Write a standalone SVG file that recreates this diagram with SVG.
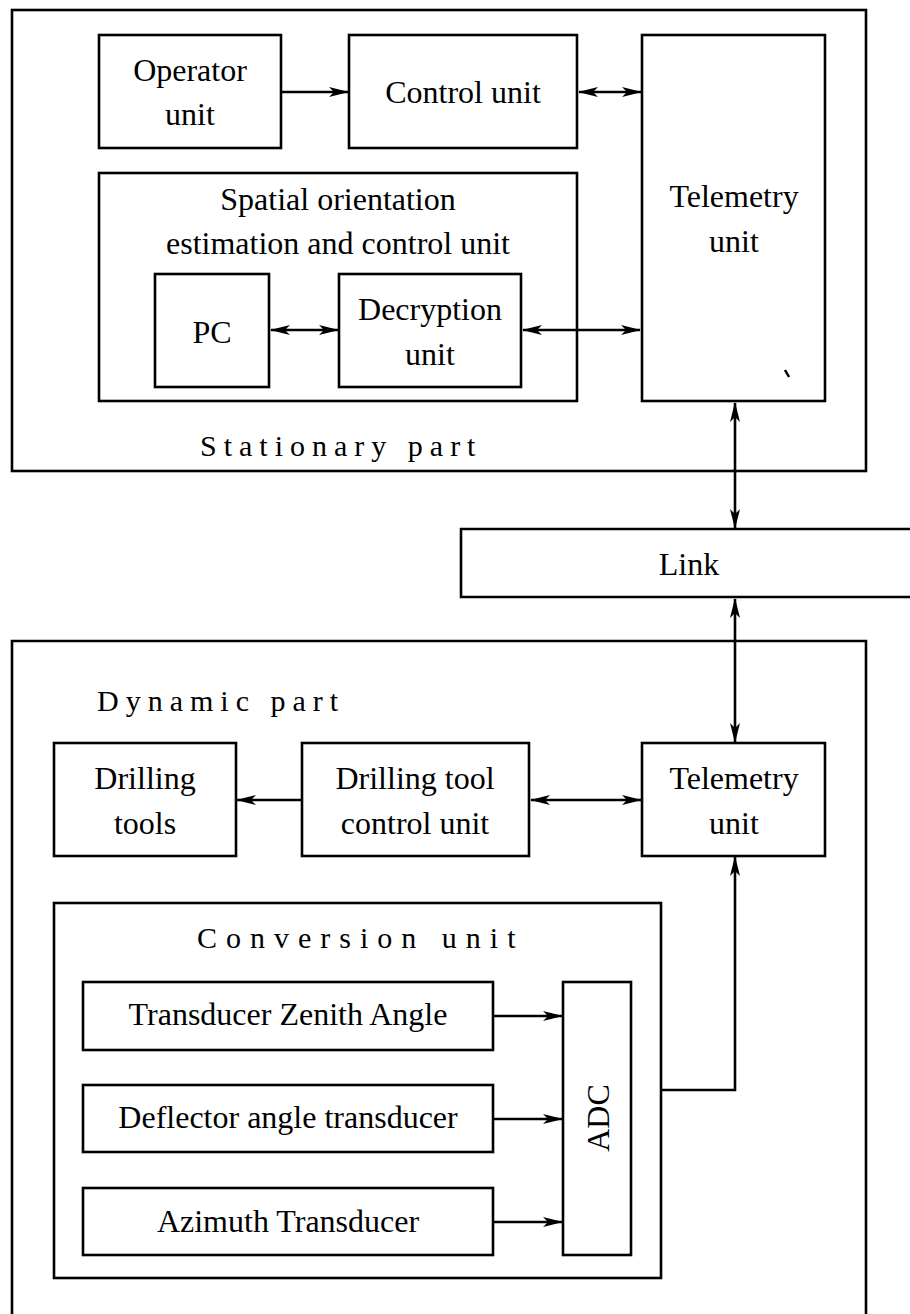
<svg xmlns="http://www.w3.org/2000/svg" width="910" height="1314" viewBox="0 0 910 1314">
<defs>
<style>
.b{fill:#fff;stroke:#000;stroke-width:2.6}
.o{fill:none;stroke:#000;stroke-width:2.6}
.c{fill:none;stroke:#000;stroke-width:2.6}
.t{font-family:"Liberation Serif","Times New Roman",serif;font-size:32px;fill:#000;text-anchor:middle}
.s{font-family:"Liberation Serif","Times New Roman",serif;font-size:30px;fill:#000}
</style>
<marker id="ah" markerWidth="20" markerHeight="12" refX="19" refY="6" orient="auto-start-reverse" markerUnits="userSpaceOnUse">
<path d="M0,1 L20,6 L0,11 L5,6 Z" fill="#000"/>
</marker>
</defs>
<rect width="910" height="1314" fill="#fff"/>
<g id="stationary-part">
<rect class="o" x="12" y="10" width="854" height="461"/>
<text class="s" x="200" y="456" letter-spacing="7">Stationary part</text>
</g>
<g id="operator-unit">
<rect class="b" x="99" y="35" width="182" height="113"/>
<text class="t" x="190" y="81">Operator</text>
<text class="t" x="190" y="125">unit</text>
</g>
<g id="control-unit">
<rect class="b" x="349" y="35" width="228" height="113"/>
<text class="t" x="463" y="103">Control unit</text>
</g>
<g id="telemetry-unit-top">
<rect class="b" x="642" y="35" width="183" height="366"/>
<text class="t" x="734" y="207">Telemetry</text>
<text class="t" x="734" y="252">unit</text>
<path d="M785,370 L789,377" stroke="#000" stroke-width="2.5" fill="none"/>
</g>
<g id="spatial-orientation-unit">
<rect class="b" x="99" y="173" width="478" height="228"/>
<text class="t" x="338" y="210">Spatial orientation</text>
<text class="t" x="338" y="254">estimation and control unit</text>
</g>
<g id="pc">
<rect class="b" x="155" y="274" width="114" height="113"/>
<text class="t" x="212" y="343">PC</text>
</g>
<g id="decryption-unit">
<rect class="b" x="339" y="274" width="182" height="113"/>
<text class="t" x="430" y="320">Decryption</text>
<text class="t" x="430" y="365">unit</text>
</g>
<g id="link">
<path class="o" d="M912,529 H461 V597 H912"/>
<text class="t" x="689" y="575">Link</text>
</g>
<g id="dynamic-part">
<path class="o" d="M12,1316 V641 H866 V1316"/>
<text class="s" x="97" y="711" letter-spacing="7">Dynamic part</text>
</g>
<g id="drilling-tools">
<rect class="b" x="54" y="743" width="182" height="113"/>
<text class="t" x="145" y="789">Drilling</text>
<text class="t" x="145" y="834">tools</text>
</g>
<g id="drilling-tool-control-unit">
<rect class="b" x="302" y="743" width="227" height="113"/>
<text class="t" x="415" y="789">Drilling tool</text>
<text class="t" x="415" y="834">control unit</text>
</g>
<g id="telemetry-unit-bottom">
<rect class="b" x="642" y="743" width="183" height="113"/>
<text class="t" x="734" y="789">Telemetry</text>
<text class="t" x="734" y="834">unit</text>
</g>
<g id="conversion-unit">
<rect class="b" x="54" y="903" width="607" height="375"/>
<text class="s" x="197" y="948" letter-spacing="9">Conversion unit</text>
</g>
<g id="transducer-zenith-angle">
<rect class="b" x="83" y="982" width="410" height="68"/>
<text class="t" x="288" y="1025">Transducer Zenith Angle</text>
</g>
<g id="deflector-angle-transducer">
<rect class="b" x="83" y="1085" width="410" height="67"/>
<text class="t" x="288" y="1128">Deflector angle transducer</text>
</g>
<g id="azimuth-transducer">
<rect class="b" x="83" y="1188" width="410" height="67"/>
<text class="t" x="288" y="1232">Azimuth Transducer</text>
</g>
<g id="adc">
<rect class="b" x="563" y="982" width="68" height="273"/>
<text class="t" transform="translate(609,1118) rotate(-90)">ADC</text>
</g>
<g id="connectors">
<line class="c" x1="281" y1="92" x2="348" y2="92" marker-end="url(#ah)"/>
<line class="c" x1="579" y1="92" x2="641" y2="92" marker-start="url(#ah)" marker-end="url(#ah)"/>
<line class="c" x1="271" y1="330" x2="338" y2="330" marker-start="url(#ah)" marker-end="url(#ah)"/>
<line class="c" x1="523" y1="330" x2="640" y2="330" marker-start="url(#ah)" marker-end="url(#ah)"/>
<line class="c" x1="735" y1="403" x2="735" y2="528" marker-start="url(#ah)" marker-end="url(#ah)"/>
<line class="c" x1="735" y1="599" x2="735" y2="742" marker-start="url(#ah)" marker-end="url(#ah)"/>
<line class="c" x1="302" y1="800" x2="237" y2="800" marker-end="url(#ah)"/>
<line class="c" x1="531" y1="800" x2="641" y2="800" marker-start="url(#ah)" marker-end="url(#ah)"/>
<line class="c" x1="493" y1="1016" x2="562" y2="1016" marker-end="url(#ah)"/>
<line class="c" x1="493" y1="1119" x2="562" y2="1119" marker-end="url(#ah)"/>
<line class="c" x1="493" y1="1222" x2="562" y2="1222" marker-end="url(#ah)"/>
<polyline class="c" points="661,1090 735,1090 735,857" marker-end="url(#ah)"/>
</g>
</svg>
